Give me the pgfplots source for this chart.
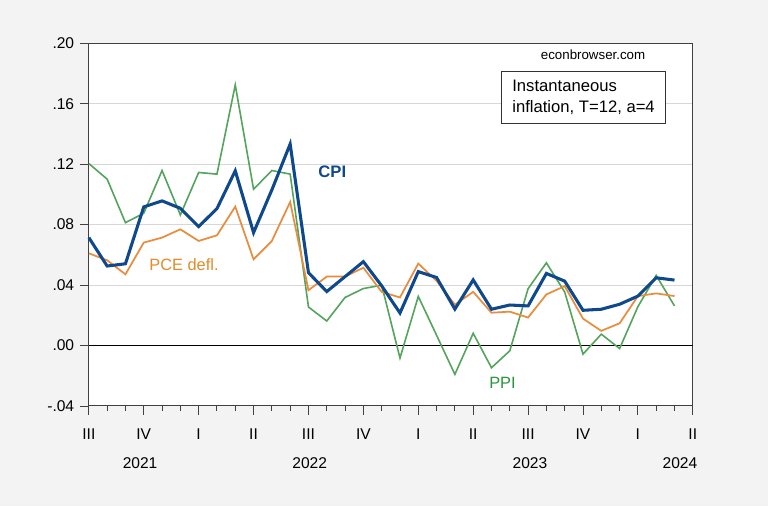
\documentclass[border=0pt]{standalone}
\usepackage{pgfplots}
\pgfplotsset{compat=1.18}
\usepackage{fontspec}
\setmainfont{Liberation Sans}
\definecolor{bgc}{RGB}{243,243,243}
\definecolor{cpic}{RGB}{16,72,140}
\definecolor{pcec}{RGB}{232,140,62}
\definecolor{ppic}{RGB}{84,164,92}
\definecolor{pcetxt}{RGB}{226,140,40}
\definecolor{ppitxt}{RGB}{40,150,60}
\definecolor{gridc}{RGB}{215,215,215}
\begin{document}
\begin{tikzpicture}
\fill[bgc] (-66.75pt,-75.25pt) rectangle (510.25pt,305.0pt);
\begin{axis}[
  at={(0,0)}, anchor=south west,
  scale only axis, width=453.75pt, height=272.5pt,
  xmin=0, xmax=33, ymin=-0.04, ymax=0.20,
  axis background/.style={fill=white},
  axis line style={draw=black!75, line width=0.8pt},
  font=\fontsize{11.7}{13}\selectfont,
  /pgf/number format/assume math mode=true,
  xtick={0,3,...,33},
  xticklabels={III,IV,I,II,III,IV,I,II,III,IV,I,II},
  minor xtick={1,2,4,5,7,8,10,11,13,14,16,17,19,20,22,23,25,26,28,29,31,32},
  ytick={-0.04,0,0.04,0.08,0.12,0.16,0.20},
  yticklabels={-.04,.00,.04,.08,.12,.16,.20},
  tick align=outside, xtick pos=bottom, ytick pos=left,
  major tick length=6.5pt, minor tick length=3.7pt,
  tick style={black!75, line width=0.7pt},
  xticklabel style={yshift=-7pt},
  yticklabel style={xshift=-1pt},
  ymajorgrids, major grid style={gridc, line width=0.8pt},
  clip=false,
]
\draw[black, line width=0.7pt] (axis cs:0,0) -- (axis cs:33,0);
\addplot[ppic, line width=1.2pt] coordinates {
(0,0.1204)(1,0.1101)(2,0.0813)(3,0.0875)(4,0.1158)(5,0.0864)(6,0.1145)(7,0.1134)(8,0.1724)(9,0.1034)(10,0.1158)(11,0.1134)
(12,0.0255)(13,0.0162)(14,0.0318)(15,0.0377)(16,0.0399)(17,-0.0083)(18,0.0325)(19,0.0068)(20,-0.0191)(21,0.0081)(22,-0.0147)
(23,-0.0035)(24,0.0376)(25,0.0547)(26,0.0354)(27,-0.0057)(28,0.0075)(29,-0.0020)(30,0.0257)(31,0.0464)(32,0.0262)};
\addplot[pcec, line width=1.3pt] coordinates {
(0,0.0610)(1,0.0564)(2,0.0471)(3,0.0681)(4,0.0714)(5,0.0769)(6,0.0692)(7,0.0729)(8,0.0919)(9,0.0570)(10,0.0692)(11,0.0950)
(12,0.0366)(13,0.0456)(14,0.0456)(15,0.0515)(16,0.0355)(17,0.0318)(18,0.0542)(19,0.0428)(20,0.0270)(21,0.0355)(22,0.0217)
(23,0.0224)(24,0.0185)(25,0.0338)(26,0.0393)(27,0.0178)(28,0.0097)(29,0.0147)(30,0.0327)(31,0.0345)(32,0.0327)};
\addplot[cpic, line width=2.3pt] coordinates {
(0,0.0714)(1,0.0526)(2,0.0541)(3,0.0917)(4,0.0957)(5,0.0908)(6,0.0787)(7,0.0906)(8,0.1156)(9,0.0747)(10,0.1030)(11,0.1333)
(12,0.0482)(13,0.0357)(14,0.0456)(15,0.0555)(16,0.0395)(17,0.0215)(18,0.0489)(19,0.0450)(20,0.0241)(21,0.0434)(22,0.0240)
(23,0.0268)(24,0.0262)(25,0.0477)(26,0.0426)(27,0.0233)(28,0.0240)(29,0.0273)(30,0.0327)(31,0.0448)(32,0.0433)};
\node[text=cpic, font=\fontsize{12.5}{14}\selectfont\bfseries] at (axis cs:13.3,0.115) {CPI};
\node[text=pcetxt, font=\fontsize{12.3}{14}\selectfont] at (axis cs:5.2,0.0535) {PCE defl.};
\node[text=ppitxt, font=\fontsize{12.3}{14}\selectfont] at (axis cs:22.6,-0.0245) {PPI};
\node[font=\fontsize{10}{12}\selectfont] at (axis cs:27.55,0.1925) {econbrowser.com};
\node[draw=black!80, fill=white, line width=0.6pt, align=left, font=\fontsize{12.5}{16.3}\selectfont, inner xsep=8pt, inner ysep=6.5pt] at (axis cs:27.03,0.1642) {Instantaneous\\inflation, T=12, a=4};
\node[font=\fontsize{11.7}{13}\selectfont] at (axis cs:2.8,-0.0777) {2021};
\node[font=\fontsize{11.7}{13}\selectfont] at (axis cs:12.07,-0.0777) {2022};
\node[font=\fontsize{11.7}{13}\selectfont] at (axis cs:24.1,-0.0777) {2023};
\node[font=\fontsize{11.7}{13}\selectfont] at (axis cs:32.3,-0.0777) {2024};
\end{axis}
\end{tikzpicture}
\end{document}
